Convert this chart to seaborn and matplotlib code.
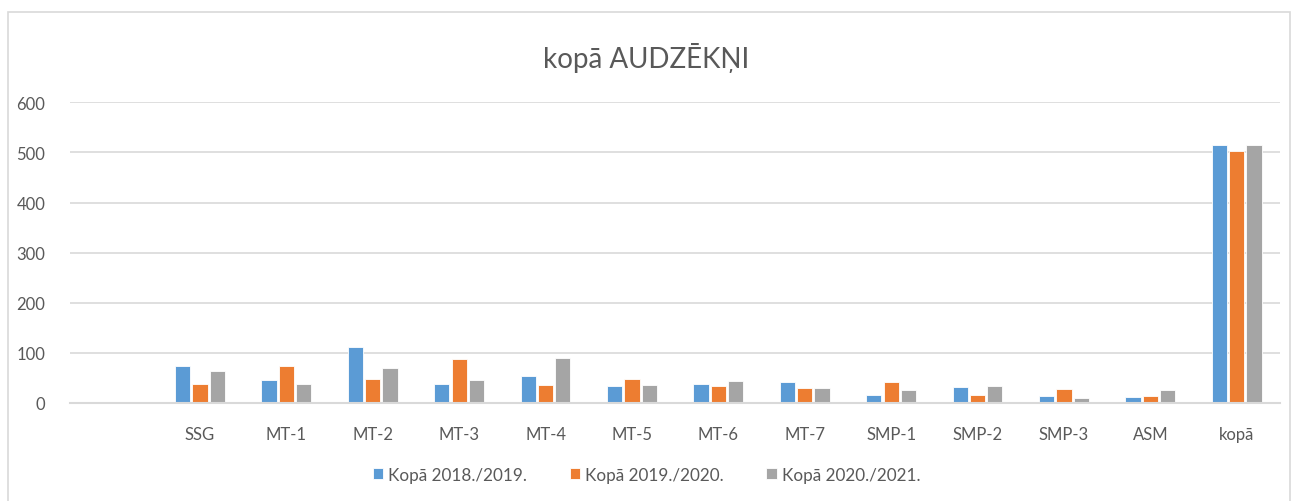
import pandas as pd
import matplotlib.pyplot as plt
import seaborn as sns
from matplotlib.patches import Rectangle

# dati no attēla
kategorijas = ["", "SSG", "MT-1", "MT-2", "MT-3", "MT-4", "MT-5", "MT-6", "MT-7",
               "SMP-1", "SMP-2", "SMP-3", "ASM", "kopā"]
grupas = ["SSG", "MT-1", "MT-2", "MT-3", "MT-4", "MT-5", "MT-6", "MT-7",
          "SMP-1", "SMP-2", "SMP-3", "ASM", "kopā"]
kopa_2018 = [74, 45, 111, 38, 54, 34, 38, 41, 16, 31, 14, 11, 514]
kopa_2019 = [38, 74, 47, 87, 36, 47, 34, 29, 41, 16, 27, 14, 502]
kopa_2020 = [63, 38, 69, 45, 89, 36, 43, 29, 25, 34, 9, 25, 515]
serijas = ["Kopā 2018./2019.", "Kopā 2019./2020.", "Kopā 2020./2021."]
krasas = ["#5B9BD5", "#ED7D31", "#A5A5A5"]

df = pd.DataFrame({
    "grupa": grupas * 3,
    "vertiba": kopa_2018 + kopa_2019 + kopa_2020,
    "serija": [serijas[0]] * 13 + [serijas[1]] * 13 + [serijas[2]] * 13,
})

sns.set_style("white")
plt.rcParams['font.family'] = ['Lato', 'DejaVu Sans']

fig = plt.figure(figsize=(12.93, 5.02), dpi=100)
ax = fig.add_axes([0.0544, 0.1955, 0.9355, 0.5985])

sns.barplot(data=df, x="grupa", y="vertiba", hue="serija", order=kategorijas,
            hue_order=serijas, palette=krasas, saturation=1, width=0.6, gap=0.12,
            edgecolor="white", linewidth=0.6, ax=ax)

ax.set_ylim(0, 600)
ax.set_yticks(range(0, 601, 100))
ax.set_xlim(-0.5, len(kategorijas) - 0.5)
ax.set_xlabel("")
ax.set_ylabel("")
ax.grid(axis="y", color="#D9D9D9", linewidth=1.2)
ax.set_axisbelow(True)
for s in ["left", "right", "top"]:
    ax.spines[s].set_visible(False)
ax.spines["bottom"].set_color("#D9D9D9")
ax.spines["bottom"].set_linewidth(1.5)
ax.tick_params(axis="y", length=0, pad=18, labelsize=12, labelcolor="#595959")
ax.tick_params(axis="x", length=0, pad=17, labelsize=12, labelcolor="#595959")

fig.text(0.5, 0.885, "kopā AUDZĒKŅI", ha="center", va="center",
         fontsize=20, color="#595959")

ax.legend(loc="center", bbox_to_anchor=(0.5, 0.052), bbox_transform=fig.transFigure,
          ncol=3, frameon=False, fontsize=12.3, labelcolor="#595959",
          handlelength=0.6, handleheight=0.6, handletextpad=0.3, columnspacing=2.5)

fig.patches.append(Rectangle((0.006, -0.01), 0.992, 0.984, transform=fig.transFigure,
                             fill=False, edgecolor="#D9D9D9", linewidth=1.2))

plt.savefig("out.png", dpi=100)
